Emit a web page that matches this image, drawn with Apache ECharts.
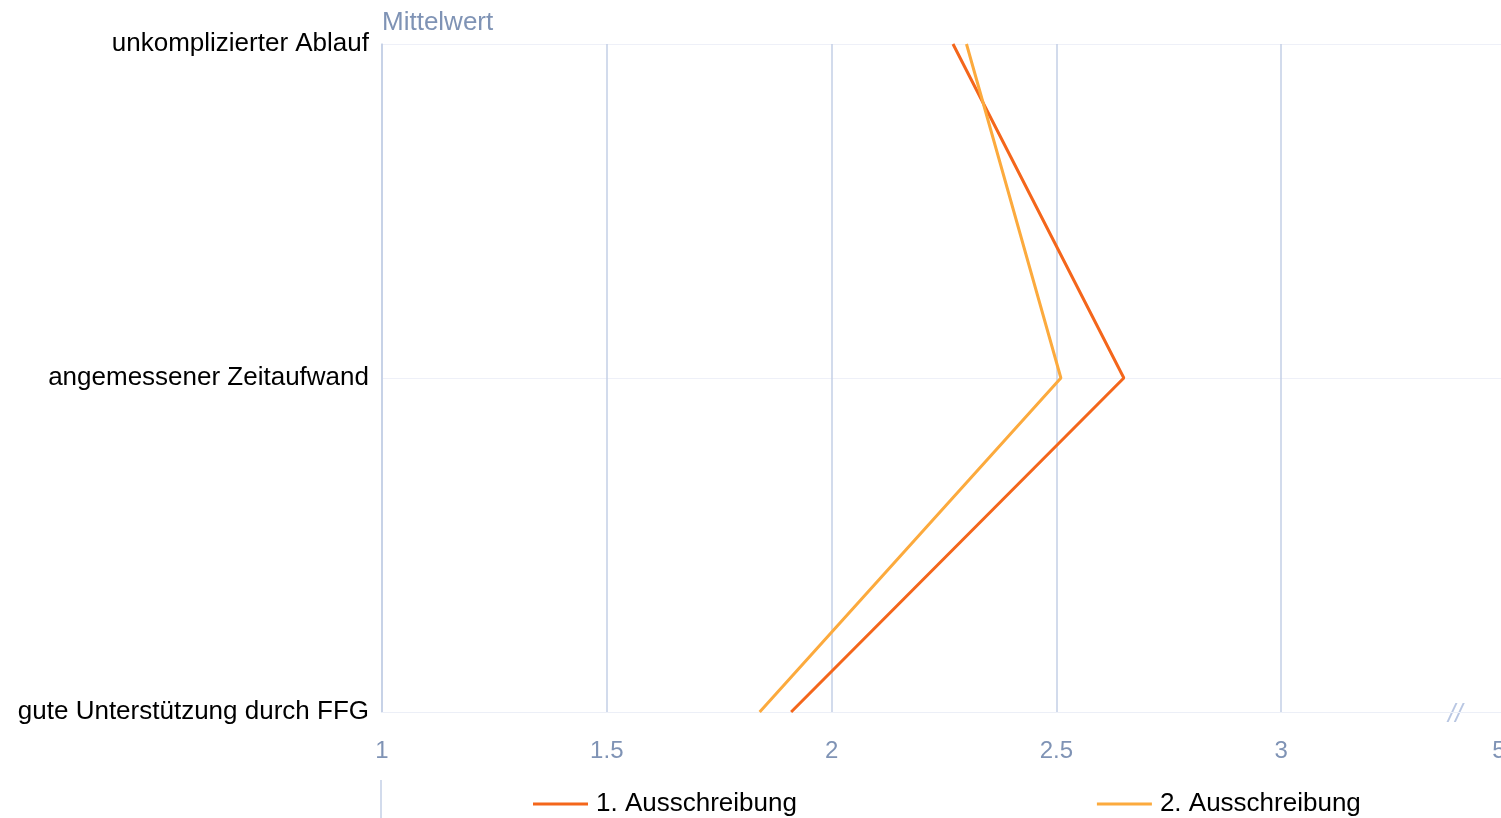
<!DOCTYPE html>
<html>
<head>
<meta charset="utf-8">
<title>Mittelwert</title>
<script src="https://cdn.jsdelivr.net/npm/echarts@6/dist/echarts.min.js"></script>
<style>
  html, body { margin: 0; padding: 0; background: #fff; }
  #chart { width: 1501px; height: 818px; }
</style>
</head>
<body>
<div id="chart"></div>
<script>
// categories, top to bottom
const categories = ['unkomplizierter Ablauf', 'angemessener Zeitaufwand', 'gute Unterstützung durch FFG']
const seriesNames = ['1. Ausschreibung', '2. Ausschreibung']
const firstRound = [2.27, 2.65, 1.91]
const secondRound = [2.30, 2.51, 1.84]
// axis is cut after 3, the last tick stands for 5
const xTickValues = [1, 1.5, 2, 2.5, 3, 3.5]
const xTickLabels = ['1', '1.5', '2', '2.5', '3', '5']

const font = 'Liberation Sans, Arial, sans-serif'
const blueGrey = '#7f93b5'

const chart = echarts.init(document.getElementById('chart'))

chart.setOption({
  animation: false,
  title: {
    text: 'Mittelwert',
    left: 377,
    top: 5,
    textStyle: { color: blueGrey, fontSize: 26, fontWeight: 'normal', fontFamily: font }
  },
  legend: {
    data: seriesNames,
    left: 528,
    top: 786,
    icon: 'rect',
    itemWidth: 55,
    itemHeight: 3,
    itemGap: 300,
    textStyle: { color: '#000', fontSize: 26, fontFamily: font, padding: [0, 0, 0, 3] }
  },
  grid: {
    left: 382,
    top: 44,
    bottom: 106,
    width: 1124,
    outerBoundsMode: 'none',
    containLabel: false
  },
  xAxis: {
    type: 'value',
    min: 1,
    max: 3.5,
    interval: 0.5,
    axisLine: { show: true, lineStyle: { color: '#eceff7', width: 1 } },
    axisTick: { show: false },
    axisLabel: {
      color: blueGrey,
      fontSize: 24,
      fontFamily: font,
      margin: 27,
      formatter: function(val) {
        const i = xTickValues.indexOf(val)
        if (i < 0) return ''
        // last label sits at the cut edge
        return i === xTickValues.length - 1 ? '{last|' + xTickLabels[i] + '}' : xTickLabels[i]
      },
      rich: {
        last: { color: blueGrey, fontSize: 24, fontFamily: font, padding: [0, 14, 0, 0] }
      }
    },
    splitLine: { show: true, lineStyle: { color: '#c3cfe6', width: 1.5 } }
  },
  yAxis: {
    type: 'category',
    data: categories,
    inverse: true,
    boundaryGap: false,
    axisLine: { show: true, lineStyle: { color: '#c3cfe6', width: 1.5 } },
    axisTick: { show: false },
    axisLabel: { color: '#000', fontSize: 26, fontFamily: font, margin: 13 },
    splitLine: { show: true, lineStyle: { color: '#eef0f8', width: 1 } }
  },
  series: [
    {
      name: seriesNames[0],
      type: 'line',
      data: firstRound,
      symbol: 'none',
      itemStyle: { color: '#f4661b' },
      lineStyle: { color: '#f4661b', width: 3 }
    },
    {
      name: seriesNames[1],
      type: 'line',
      data: secondRound,
      symbol: 'none',
      itemStyle: { color: '#fcaa3d' },
      lineStyle: { color: '#fcaa3d', width: 3 }
    }
  ],
  graphic: [
    // axis break mark
    {
      type: 'text',
      left: 1448,
      top: 702,
      style: { text: '//', fill: '#b8c6e2', fontSize: 26, fontFamily: font, fontStyle: 'italic' }
    },
    {
      type: 'line',
      shape: { x1: 381, y1: 780, x2: 381, y2: 818 },
      style: { stroke: '#c3cfe6', lineWidth: 1.5 }
    }
  ]
})
</script>
</body>
</html>
